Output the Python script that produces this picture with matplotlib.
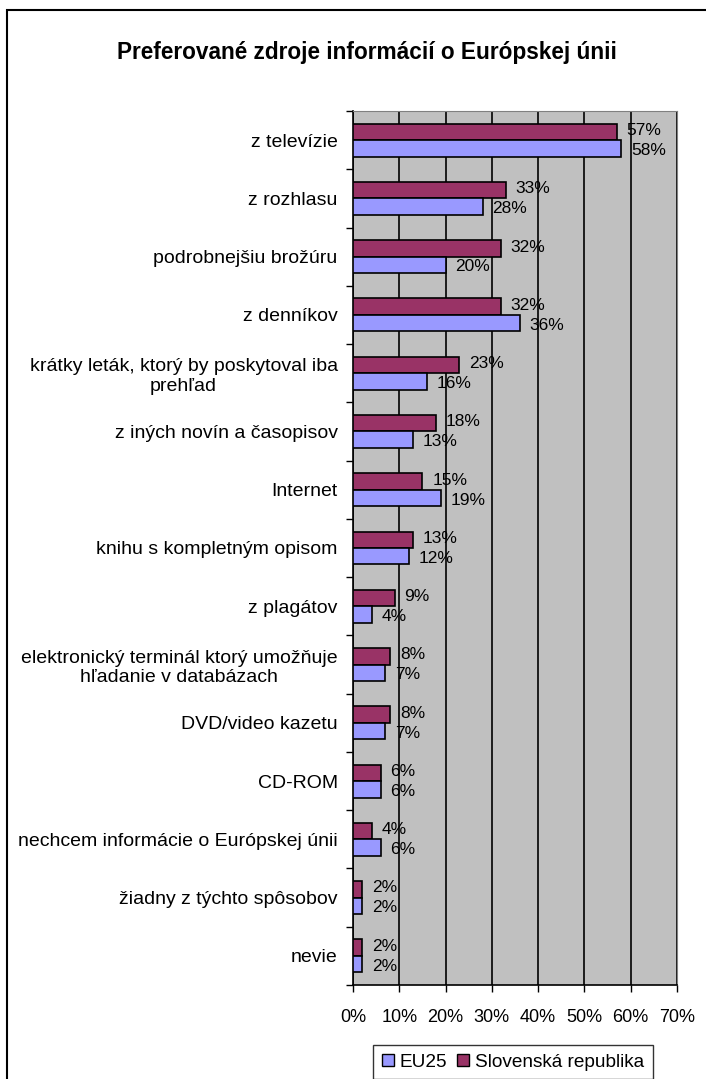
import numpy as np
import matplotlib
matplotlib.use("Agg")
import matplotlib.pyplot as plt
from matplotlib.patches import Rectangle, Patch
from matplotlib.ticker import PercentFormatter

plt.rcParams['font.family'] = ['Liberation Sans', 'DejaVu Sans']

categories = [
    "z televízie",
    "z rozhlasu",
    "podrobnejšiu brožúru",
    "z denníkov",
    "krátky leták, ktorý by poskytoval iba\nprehľad",
    "z iných novín a časopisov",
    "Internet",
    "knihu s kompletným opisom",
    "z plagátov",
    "elektronický terminál ktorý umožňuje\nhľadanie v databázach",
    "DVD/video kazetu",
    "CD-ROM",
    "nechcem informácie o Európskej únii",
    "žiadny z týchto spôsobov",
    "nevie",
]
eu25 = [58, 28, 20, 36, 16, 13, 19, 12, 4, 7, 7, 6, 6, 2, 2]
slovakia = [57, 33, 32, 32, 23, 18, 15, 13, 9, 8, 8, 6, 4, 2, 2]
series_names = ["EU25", "Slovenská republika"]

BLUE = "#9999FF"
MAROON = "#993366"
GRAY = "#C0C0C0"

W, H = 706, 1079
fig = plt.figure(figsize=(W / 100, H / 100), dpi=100)

# outer frame of the chart
fig.patches.append(Rectangle((7 / W, 0 - 5 / H), (W + 10) / W, (H - 10 + 5) / H,
                             transform=fig.transFigure, fill=False,
                             edgecolor="black", linewidth=1.5))

ax = fig.add_axes([353 / W, 1 - 985 / H, 324 / W, 874 / H])
ax.set_facecolor(GRAY)

n = len(categories)
pos = np.arange(n)
h = 0.283

b_sk = ax.barh(pos - h / 2, slovakia, height=h, color=MAROON, edgecolor="black", linewidth=1.2, zorder=3)
b_eu = ax.barh(pos + h / 2, eu25, height=h, color=BLUE, edgecolor="black", linewidth=1.2, zorder=3)

# labels sit a little apart vertically, like in the original
for bars, vals, dy in ((b_sk, slovakia, 1), (b_eu, eu25, -1.5)):
    for bar, v in zip(bars, vals):
        ax.annotate(f"{v}%", (v, bar.get_y() + bar.get_height() / 2),
                    xytext=(7, dy), textcoords="offset points",
                    va="center", ha="left", fontsize=12.5, zorder=4)

ax.set_xlim(0, 70)
ax.set_ylim(n - 0.5, -0.5)
ax.set_xticks(np.arange(0, 71, 10))
ax.xaxis.set_major_formatter(PercentFormatter(decimals=0))
ax.grid(axis="x", color="black", linewidth=1.2, zorder=1)
ax.grid(axis="y", visible=False)

ax.set_yticks(pos)
ax.set_yticklabels(categories, fontsize=14, ha="right", multialignment="center")
ax.tick_params(axis="y", which="major", length=0, pad=11)
ax.set_yticks(np.arange(-0.5, n, 1), minor=True)
ax.tick_params(axis="y", which="minor", length=5, width=1, direction="out")
ax.tick_params(axis="x", length=5, width=1, direction="out", labelsize=13, pad=12)

for side in ("top", "right"):
    ax.spines[side].set_color("#808080")
for side in ("left", "bottom"):
    ax.spines[side].set_color("black")
    ax.spines[side].set_linewidth(1.2)

fig.text(367 / W, 1 - 52 / H, "Preferované zdroje informácií o Európskej únii",
         ha="center", va="center", fontsize=16.3, fontweight="bold")

handles = [Patch(facecolor=BLUE, edgecolor="black"),
           Patch(facecolor=MAROON, edgecolor="black")]
leg = fig.legend(handles, series_names, loc="upper center",
                 bbox_to_anchor=(513 / W, 1 - 1045 / H), ncol=2, fontsize=13.7,
                 frameon=True, fancybox=False, shadow=False,
                 handlelength=0.65, handleheight=0.65, handletextpad=0.3,
                 columnspacing=0.5, borderpad=0.45, borderaxespad=0)
leg.get_frame().set_edgecolor("black")
leg.get_frame().set_linewidth(1.0)

fig.savefig("out.png", dpi=100)
